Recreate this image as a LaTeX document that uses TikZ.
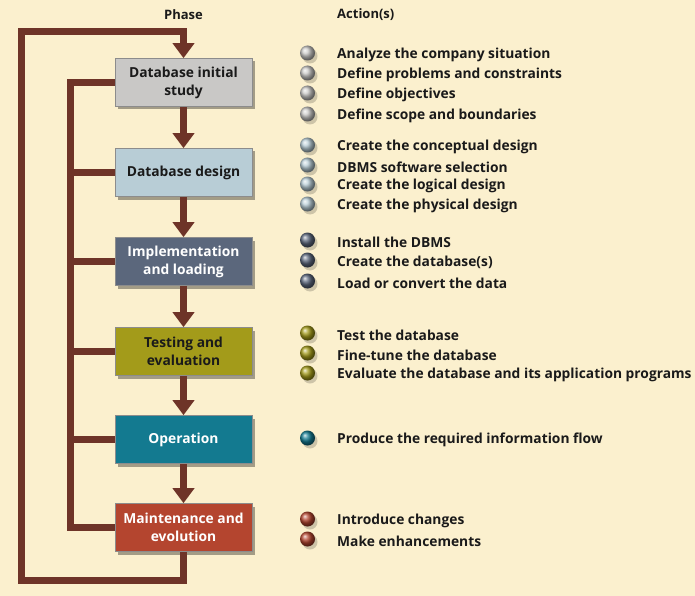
\documentclass[tikz,border=0pt]{standalone}
\usepackage{fontspec}
\setmainfont{Open Sans}
\usetikzlibrary{arrows.meta,shadows,shapes.geometric}
\definecolor{bg}{HTML}{FBF0CE}
\definecolor{brn}{HTML}{6E3428}
\definecolor{cA}{HTML}{C9C8C6}
\definecolor{cB}{HTML}{B8CDD6}
\definecolor{cC}{HTML}{5B677C}
\definecolor{cD}{HTML}{A39B1A}
\definecolor{cE}{HTML}{137A90}
\definecolor{cF}{HTML}{B4452F}
\definecolor{txt}{HTML}{1A1A1A}
\tikzset{
  phase/.style={draw=black!45, line width=0.6pt, minimum width=137pt, minimum height=48pt,
    align=center, font=\fontsize{13.8}{18}\selectfont\bfseries, inner sep=2pt,
    drop shadow={shadow xshift=3pt, shadow yshift=-3pt, opacity=0.35, fill=black}},
  conn/.style={draw=brn, line width=7pt, line join=miter},
  arr/.style={conn, -{Triangle[width=21pt,length=15pt]}},
  bul/.style={circle, minimum size=15pt, inner sep=0pt, shading=ball},
  act/.style={anchor=west, inner sep=0pt, text=txt, font=\fontsize{13.8}{16}\selectfont\bfseries},
  hdr/.style={inner sep=0pt, text=txt, font=\fontsize{13}{15}\selectfont\bfseries}
}
\begin{document}
\begin{tikzpicture}[x=1pt,y=-1pt]
\fill[bg] (0,0) rectangle (695,596);
\useasboundingbox (0,0) rectangle (695,596);

\node[hdr] (ph) at (183.5,15) {Phase};
\node[hdr, anchor=west] (ac) at (337,15) {Action(s)};

\coordinate (lb) at (21,580);
\coordinate (lt) at (21,32);
\coordinate (it) at (70,82.5);
\coordinate (ib) at (70,527.5);

\node[phase, fill=cA, text=txt] (b1) at (183.5,82.5) {Database initial\\study};
\node[phase, fill=cB, text=txt] (b2) at (183.5,172.5) {Database design};
\node[phase, fill=cC, text=white] (b3) at (183.5,261.5) {Implementation\\and loading};
\node[phase, fill=cD, text=txt] (b4) at (183.5,351.5) {Testing and\\evaluation};
\node[phase, fill=cE, text=white] (b5) at (183.5,439.5) {Operation};
\node[phase, fill=cF, text=white] (b6) at (183.5,527.5) {Maintenance and\\evolution};

\draw[arr] (b1.south) -- (b2.north);
\draw[arr] (b2.south) -- (b3.north);
\draw[arr] (b3.south) -- (b4.north);
\draw[arr] (b4.south) -- (b5.north);
\draw[arr] (b5.south) -- (b6.north);

\draw[arr] (b6.south) |- (lb) -- (lt) -| (b1.north);

\draw[conn] (b1.west) -- (it) -- (ib) -- (b6.west);
\draw[conn] (b2.west) -- (b2.west -| it);
\draw[conn] (b3.west) -- (b3.west -| it);
\draw[conn] (b4.west) -- (b4.west -| it);
\draw[conn] (b5.west) -- (b5.west -| it);

\foreach \y/\c/\t [count=\i] in {
  55/cA/Analyze the company situation,
  75/cA/Define problems and constraints,
  95/cA/Define objectives,
  116/cA/Define scope and boundaries,
  147/cB/Create the conceptual design,
  167/cB/DBMS software selection,
  186/cB/Create the logical design,
  206/cB/Create the physical design,
  242/cC/Install the DBMS,
  262/cC/Create the database(s),
  283/cC/Load or convert the data,
  335/cD/Test the database,
  355/cD/Fine-tune the database,
  375/cD/Evaluate the database and its application programs,
  440/cE/Produce the required information flow,
  521/cF/Introduce changes,
  541/cF/Make enhancements}{
  \fill[black, opacity=0.18] (310,\y+1) circle (7.5pt);
  \node[bul, ball color=\c] (u\i) at (307.5,\y-2) {};
  \node[act] (a\i) at (337,\y) {\t};
}
\end{tikzpicture}
\end{document}
